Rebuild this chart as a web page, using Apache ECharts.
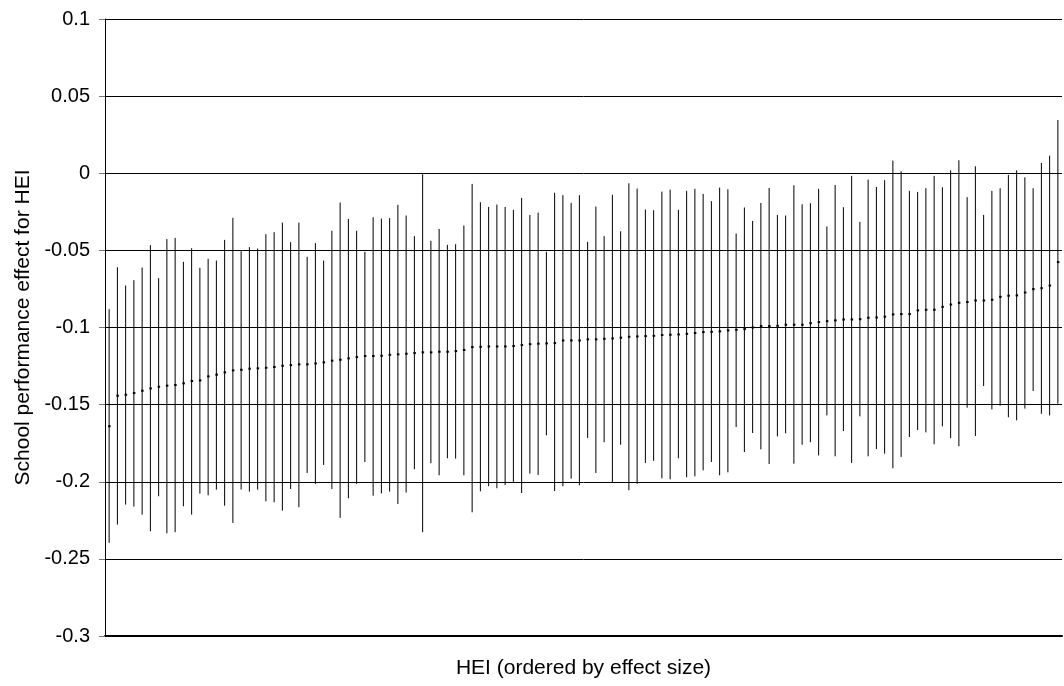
<!DOCTYPE html>
<html>
<head>
<meta charset="utf-8">
<script src="https://cdn.jsdelivr.net/npm/echarts@6/dist/echarts.min.js"></script>
<style>
html,body{margin:0;padding:0;background:#fff;}
#chart{width:1064px;height:686px;}
</style>
</head>
<body>
<div id="chart"></div>
<script>
const estimate = [
-0.164,-0.1442,-0.1436,-0.1425,-0.141,-0.1395,-0.1384,-0.1377,-0.1373,-0.1362,-0.1347,-0.1343,-0.1317,-0.1306,-0.1291,-0.1278,-0.1274,-0.1267,-0.1265,-0.1261,
-0.1256,-0.1248,-0.1244,-0.1239,-0.1239,-0.1233,-0.1226,-0.1215,-0.1209,-0.12,-0.1192,-0.1185,-0.1185,-0.1183,-0.1177,-0.1174,-0.117,-0.1166,-0.1161,
-0.1161,-0.1157,-0.1157,-0.1153,-0.1146,-0.1127,-0.1125,-0.1123,-0.1123,-0.1123,-0.112,-0.1114,-0.1108,-0.1105,-0.1103,-0.1101,-0.1084,-0.1084,-0.1084,-0.1077,
-0.1077,-0.1073,-0.1071,-0.1066,-0.106,-0.1058,-0.1056,-0.1054,-0.1049,-0.1047,-0.1045,-0.1041,-0.1036,-0.103,-0.1028,-0.1025,-0.1019,-0.1015,-0.101,
-0.1,-0.0991,-0.0991,-0.0989,-0.0982,-0.0982,-0.0982,-0.0972,-0.0965,-0.0959,-0.0954,-0.0948,-0.0948,-0.0946,-0.0937,-0.0935,-0.093,-0.0915,-0.0913,-0.0913,
-0.0889,-0.0885,-0.0885,-0.0866,-0.0851,-0.084,-0.0835,-0.0825,-0.0825,-0.082,-0.0801,-0.0794,-0.0792,-0.0773,-0.0751,-0.0745,-0.0728,-0.0576
];
const lower = [
-0.2396,-0.2278,-0.2148,-0.2161,-0.2213,-0.2321,-0.2094,-0.2334,-0.2327,-0.2159,-0.2213,-0.2077,-0.2088,-0.2051,-0.2155,-0.2267,-0.2051,-0.2064,-0.2051,-0.2127,
-0.2133,-0.2187,-0.2047,-0.2165,-0.1943,-0.2014,-0.1891,-0.2047,-0.2234,-0.2107,-0.2014,-0.1872,-0.209,-0.2075,-0.2064,-0.2144,-0.207,-0.1919,-0.2327,
-0.188,-0.1958,-0.1848,-0.185,-0.1958,-0.2198,-0.2062,-0.2029,-0.2042,-0.2021,-0.2003,-0.2073,-0.1947,-0.1956,-0.1699,-0.206,-0.2029,-0.198,-0.2023,-0.1716,
-0.1943,-0.1744,-0.2003,-0.176,-0.2055,-0.2014,-0.1878,-0.1865,-0.1978,-0.1984,-0.1848,-0.1971,-0.1965,-0.1926,-0.1872,-0.1958,-0.1939,-0.1645,-0.1807,
-0.1684,-0.179,-0.1885,-0.1706,-0.1686,-0.1883,-0.176,-0.1744,-0.1829,-0.157,-0.1835,-0.1671,-0.1878,-0.1576,-0.1835,-0.1788,-0.1818,-0.1913,-0.1839,-0.171,
-0.1665,-0.168,-0.1757,-0.1641,-0.1718,-0.177,-0.152,-0.1703,-0.138,-0.1531,-0.1507,-0.1582,-0.1602,-0.1526,-0.1412,-0.1559,-0.157,-0.1494
];
const upper = [
-0.0881,-0.0609,-0.0728,-0.0693,-0.0611,-0.0466,-0.068,-0.0427,-0.0419,-0.0574,-0.0486,-0.0613,-0.0555,-0.0566,-0.0432,-0.0289,-0.0505,-0.0479,-0.0488,-0.0395,
-0.0382,-0.032,-0.0447,-0.032,-0.0542,-0.0453,-0.0566,-0.0373,-0.019,-0.0296,-0.0373,-0.0509,-0.0285,-0.0294,-0.0291,-0.0205,-0.0274,-0.0408,-0.0006,
-0.0438,-0.0361,-0.0464,-0.046,-0.0339,-0.0069,-0.0188,-0.0218,-0.0203,-0.0218,-0.0237,-0.016,-0.027,-0.0255,-0.0509,-0.0127,-0.0142,-0.0192,-0.0142,-0.0445,
-0.0216,-0.0408,-0.014,-0.0376,-0.0065,-0.0099,-0.0235,-0.024,-0.0119,-0.0106,-0.0237,-0.0114,-0.0101,-0.0134,-0.0181,-0.0093,-0.0104,-0.0391,-0.0222,
-0.0309,-0.0192,-0.0095,-0.027,-0.0274,-0.0078,-0.0201,-0.0194,-0.0101,-0.0345,-0.0076,-0.022,-0.0017,-0.0315,-0.0041,-0.0089,-0.0045,0.0082,0.0013,-0.0114,
-0.0121,-0.0097,-0.0017,-0.0091,0.0019,0.0084,-0.0155,0.0045,-0.027,-0.0114,-0.0097,-0.0011,0.0019,-0.0026,-0.0097,0.0067,0.0114,0.0345
];
const categories = estimate.map((_, i) => 'HEI ' + (i + 1));
const yTicks = { min: -0.3, max: 0.1, interval: 0.05 };
const xTitle = 'HEI (ordered by effect size)';
const yTitle = 'School performance effect for HEI';

const rows = categories.map((c, i) => [i, lower[i], upper[i], estimate[i]]);

const chart = echarts.init(document.getElementById('chart'), null, { renderer: 'canvas' });
const font = '"Liberation Sans", Arial, sans-serif';
chart.setOption({
  animation: false,
  backgroundColor: '#fff',
  grid: { left: 105, right: 2, top: 19, bottom: 50 },
  xAxis: {
    type: 'category',
    data: categories,
    boundaryGap: true,
    name: xTitle,
    nameLocation: 'middle',
    nameGap: 22,
    nameTextStyle: { fontFamily: font, fontSize: 21, color: '#000' },
    axisLine: { onZero: false, lineStyle: { color: '#000', width: 2 } },
    axisTick: { show: false },
    axisLabel: { show: false },
    splitLine: { show: false }
  },
  yAxis: {
    type: 'value',
    min: yTicks.min,
    max: yTicks.max,
    interval: yTicks.interval,
    name: yTitle,
    nameLocation: 'middle',
    nameGap: 64,
    nameTextStyle: { fontFamily: font, fontSize: 21, color: '#000' },
    axisLine: { show: true, lineStyle: { color: '#000', width: 1 } },
    axisTick: { show: true, length: 6, lineStyle: { color: '#777' } },
    axisLabel: {
      fontFamily: font, fontSize: 20, color: '#000', margin: 15,
      formatter: v => String(Math.round(v * 100) / 100)
    },
    splitLine: { show: true, lineStyle: { color: '#000', width: 1 } }
  },
  series: [{
    type: 'custom',
    data: rows,
    encode: { x: 0, y: [1, 2, 3] },
    renderItem: function (params, api) {
      const i = api.value(0);
      const lo = api.coord([i, api.value(1)]);
      const hi = api.coord([i, api.value(2)]);
      const est = api.coord([i, api.value(3)]);
      return {
        type: 'group',
        children: [
          { type: 'line', shape: { x1: lo[0], y1: lo[1], x2: hi[0], y2: hi[1] },
            style: { stroke: '#000', lineWidth: 1 } },
          { type: 'rect', shape: { x: est[0] - 1, y: est[1] - 1, width: 2.5, height: 2 },
            style: { fill: '#000' } }
        ]
      };
    }
  }]
});
</script>
</body>
</html>
